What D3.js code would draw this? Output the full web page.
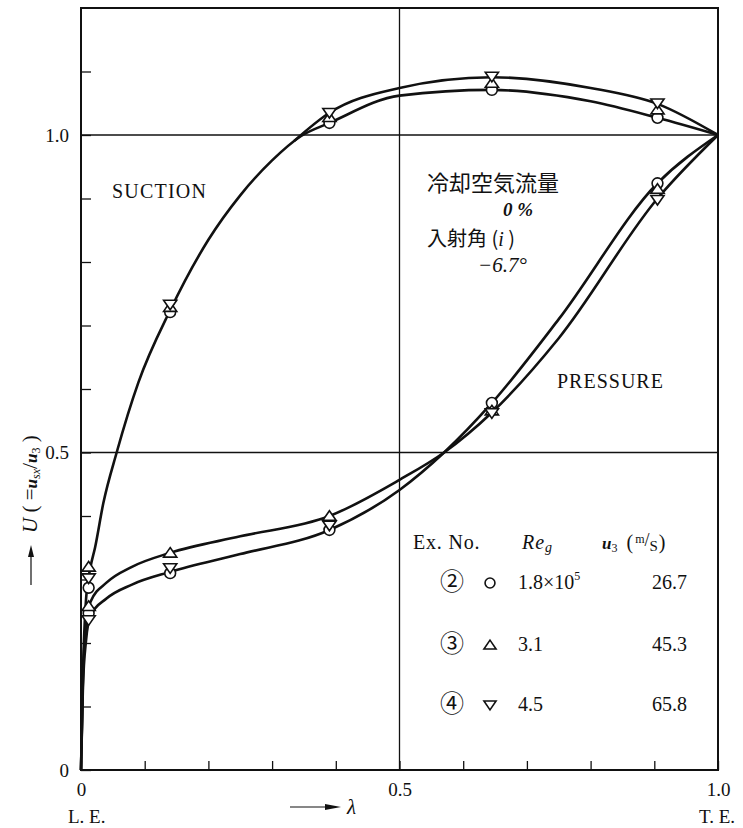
<!DOCTYPE html>
<html>
<head>
<meta charset="utf-8">
<script src="https://cdn.jsdelivr.net/npm/d3@7"></script>
<style>
  body { margin: 0; background: #fff; }
  text { font-family: "Liberation Serif", "DejaVu Serif", serif; fill: #111; }
  .jp { font-family: "Noto Sans CJK JP", sans-serif; }
</style>
</head>
<body>
<svg id="chart" width="743" height="828"></svg>
<script>
// measurement stations along the chord (lambda)
const stations = [0.012, 0.14, 0.39, 0.645, 0.905];

// U values, per Ex. No.
const suction2 = [0.287, 0.721, 1.019, 1.071, 1.027];
const suction3 = [0.320, 0.729, 1.028, 1.082, 1.040];
const suction4 = [0.302, 0.733, 1.035, 1.092, 1.050];
const pressure2 = [0.247, 0.310, 0.378, 0.578, 0.924];
const pressure3 = [0.258, 0.342, 0.400, 0.566, 0.915];
const pressure4 = [0.236, 0.318, 0.385, 0.562, 0.898];

// faired curves, [lambda, U]
const suctionLow = [[0, 0], [0.003, 0.15], [0.008, 0.27], [0.015, 0.32], [0.022, 0.35], [0.035, 0.42],
  [0.056, 0.5], [0.09, 0.61], [0.14, 0.724], [0.2, 0.835], [0.25, 0.905], [0.3, 0.96], [0.345, 0.998],
  [0.39, 1.019], [0.5, 1.062], [0.645, 1.071], [0.8, 1.053], [0.905, 1.027], [1.0, 1.0]];
const suctionHigh = [[0.335, 0.991], [0.39, 1.035], [0.5, 1.074], [0.645, 1.091],
  [0.8, 1.074], [0.905, 1.049], [1.0, 1.0]];
const pressureTri = [[0, 0], [0.003, 0.14], [0.008, 0.23], [0.015, 0.265], [0.04, 0.295], [0.08, 0.32],
  [0.14, 0.342], [0.25, 0.368], [0.39, 0.4], [0.5, 0.457], [0.57, 0.5], [0.645, 0.563], [0.75, 0.68],
  [0.905, 0.9], [1.0, 1.0]];
const pressureCirc = [[0, 0], [0.003, 0.13], [0.008, 0.205], [0.015, 0.243], [0.04, 0.27], [0.08, 0.292],
  [0.14, 0.312], [0.25, 0.34], [0.39, 0.378], [0.5, 0.441], [0.57, 0.5], [0.645, 0.578], [0.75, 0.71],
  [0.905, 0.924], [1.0, 1.0]];

const xTicks = [0, 0.1, 0.2, 0.3, 0.4, 0.5, 0.6, 0.7, 0.8, 0.9, 1.0];
const yTicks = [0, 0.1, 0.2, 0.3, 0.4, 0.5, 0.6, 0.7, 0.8, 0.9, 1.0, 1.1];
const xLabels = { 0: "0", 0.5: "0.5", 1: "1.0" };
const yLabels = { 0: "0", 0.5: "0.5", 1: "1.0" };
const gridValues = [0.5, 1.0];

// legend rows
const exNos = ["②", "③", "④"];
const exSymbols = ["circle", "up", "down"];
const reValues = ["1.8×10", "3.1", "4.5"];
const u3Values = ["26.7", "45.3", "65.8"];

const svg = d3.select("#chart");
const x = d3.scaleLinear().domain([0, 1]).range([81, 718]);
const y = d3.scaleLinear().domain([0, 1.2]).range([770, 8]);

// gridlines
svg.selectAll(".hgrid").data(gridValues).enter().append("line")
  .attr("x1", x(0)).attr("x2", x(1)).attr("y1", d => y(d)).attr("y2", d => y(d))
  .attr("stroke", "#111").attr("stroke-width", 1.3);
svg.append("line").attr("x1", x(0.5)).attr("x2", x(0.5)).attr("y1", y(1.2)).attr("y2", y(0))
  .attr("stroke", "#111").attr("stroke-width", 1.3);

// frame
svg.append("rect").attr("x", x(0)).attr("y", y(1.2)).attr("width", x(1) - x(0)).attr("height", y(0) - y(1.2))
  .attr("fill", "none").attr("stroke", "#111").attr("stroke-width", 2);

// axes with inward ticks
const xAxis = svg.append("g").attr("transform", `translate(0,${y(0)})`)
  .call(d3.axisBottom(x).tickValues(xTicks).tickSize(-9).tickPadding(13)
    .tickFormat(d => xLabels[d] || ""));
const yAxis = svg.append("g").attr("transform", `translate(${x(0)},0)`)
  .call(d3.axisLeft(y).tickValues(yTicks).tickSize(-10).tickPadding(12)
    .tickFormat(d => yLabels[d] || ""));
[xAxis, yAxis].forEach(g => {
  g.select(".domain").remove();
  g.selectAll("line").attr("stroke", "#111").attr("stroke-width", 1.3);
  g.selectAll("text").attr("font-size", 19).attr("fill", "#111")
    .attr("font-family", "Liberation Serif, serif");
});

// curves
const line = d3.line().x(d => x(d[0])).y(d => y(d[1])).curve(d3.curveMonotoneX);
[suctionLow, suctionHigh, pressureTri, pressureCirc].forEach(c => {
  svg.append("path").attr("d", line(c)).attr("fill", "none")
    .attr("stroke", "#111").attr("stroke-width", 2.6);
});

// markers
function marker(g, kind, cx, cy, s) {
  if (kind === "circle") {
    g.append("circle").attr("cx", cx).attr("cy", cy).attr("r", s * 0.45);
  } else {
    const h = s * 0.8, w = s * 0.55;
    const pts = kind === "up"
      ? [[cx, cy - h * 0.55], [cx + w, cy + h * 0.45], [cx - w, cy + h * 0.45]]
      : [[cx, cy + h * 0.55], [cx + w, cy - h * 0.45], [cx - w, cy - h * 0.45]];
    g.append("polygon").attr("points", pts.map(p => p.join(",")).join(" "));
  }
}
const mg = svg.append("g").attr("fill", "#fff").attr("stroke", "#111").attr("stroke-width", 1.6);
const sets = [
  [suction2, "circle"], [suction3, "up"], [suction4, "down"],
  [pressure2, "circle"], [pressure3, "up"], [pressure4, "down"]
];
sets.forEach(([vals, kind]) => {
  vals.forEach((v, i) => marker(mg, kind, x(stations[i]), y(v), 12));
});

// annotations
svg.append("text").attr("x", 112).attr("y", 198).attr("font-size", 20).attr("letter-spacing", 1.2).text("SUCTION");
svg.append("text").attr("x", 557).attr("y", 388).attr("font-size", 20).attr("letter-spacing", 1).text("PRESSURE");

svg.append("text").attr("class", "jp").attr("x", 427).attr("y", 191).attr("font-size", 22).text("冷却空気流量");
svg.append("text").attr("x", 503).attr("y", 216).attr("font-size", 19).attr("font-weight", "bold")
  .attr("font-style", "italic").text("0 %");
const inc = svg.append("text").attr("class", "jp").attr("x", 427).attr("y", 246).attr("font-size", 20);
inc.append("tspan").text("入射角 (");
inc.append("tspan").attr("font-style", "italic").attr("font-family", "Liberation Serif, serif").text("i");
inc.append("tspan").text(" )");
svg.append("text").attr("x", 478).attr("y", 272).attr("font-size", 21).attr("font-style", "italic").text("−6.7°");

// legend
svg.append("text").attr("x", 413).attr("y", 549).attr("font-size", 20).attr("letter-spacing", 0.8).text("Ex. No.");
svg.append("text").attr("x", 522).attr("y", 549).attr("font-size", 20).attr("font-style", "italic")
  .attr("letter-spacing", 1).html('Re<tspan font-size="14" dy="3">g</tspan>');
const uh = svg.append("text").attr("x", 602).attr("y", 549).attr("font-size", 20);
uh.append("tspan").attr("font-style", "italic").attr("font-weight", "bold").attr("font-size", 17).text("u");
uh.append("tspan").attr("font-size", 12).attr("dy", 3).text("3");
uh.append("tspan").attr("dy", -3).attr("dx", 9).text("(");
uh.append("tspan").attr("font-size", 12).attr("dy", -6).attr("dx", 2).text("m");
uh.append("tspan").attr("font-size", 18).attr("dy", 3).text("/");
uh.append("tspan").attr("font-size", 15).attr("dy", 5).text("S");
uh.append("tspan").attr("dy", -2).attr("dx", 1).text(")");

const rowY = [589, 651, 711];
const lg = svg.append("g");
exNos.forEach((n, i) => {
  lg.append("text").attr("class", "jp").attr("x", 440).attr("y", rowY[i] + 1).attr("font-size", 24).text(n);
  marker(lg.append("g").attr("fill", "#fff").attr("stroke", "#111").attr("stroke-width", 1.6),
    exSymbols[i], 490, rowY[i] - 6, 11);
  const t = lg.append("text").attr("x", 518).attr("y", rowY[i]).attr("font-size", 20).text(reValues[i]);
  if (i === 0) t.append("tspan").attr("font-size", 12).attr("dy", -9).text("5");
  lg.append("text").attr("x", 652).attr("y", rowY[i]).attr("font-size", 20).text(u3Values[i]);
});

// axis titles
svg.append("text").attr("x", 68).attr("y", 823).attr("font-size", 19).text("L. E.");
svg.append("text").attr("x", 699).attr("y", 823).attr("font-size", 19).text("T. E.");
svg.append("line").attr("x1", 290).attr("x2", 333).attr("y1", 807).attr("y2", 807)
  .attr("stroke", "#111").attr("stroke-width", 1.2);
svg.append("path").attr("d", "M325,804 L341,807 L325,810 Z").attr("fill", "#111");
svg.append("text").attr("x", 347).attr("y", 814).attr("font-size", 21).attr("font-style", "italic").text("λ");

const yt = svg.append("g").attr("transform", "translate(37,585) rotate(-90)");
yt.append("line").attr("x1", 0).attr("x2", 34).attr("y1", -6).attr("y2", -6).attr("stroke", "#111").attr("stroke-width", 1.2);
yt.append("path").attr("d", "M28,-9 L40,-6 L28,-3 Z").attr("fill", "#111");
const ytt = yt.append("text").attr("x", 52).attr("y", 0).attr("font-size", 21);
ytt.append("tspan").attr("font-style", "italic").text("U");
ytt.append("tspan").text(" ( =");
ytt.append("tspan").attr("font-style", "italic").attr("font-weight", "bold").attr("font-size", 17).text("u");
ytt.append("tspan").attr("font-style", "italic").attr("font-size", 12).attr("dy", 3).text("sx");
ytt.append("tspan").attr("dy", -3).attr("font-size", 22).text("/");
ytt.append("tspan").attr("font-style", "italic").attr("font-weight", "bold").attr("font-size", 17).text("u");
ytt.append("tspan").attr("font-size", 12).attr("dy", 3).text("3");
ytt.append("tspan").attr("dy", -3).text(" )");
</script>
</body>
</html>
